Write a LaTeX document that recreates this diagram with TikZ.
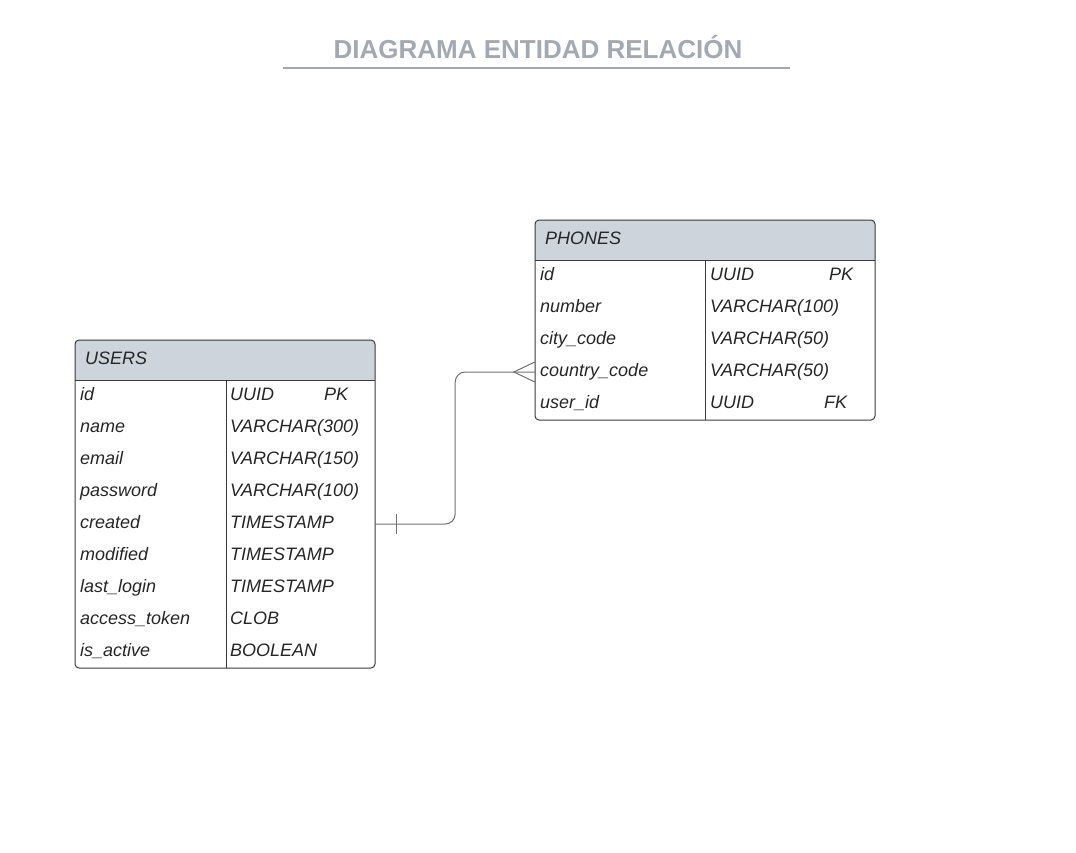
\documentclass[tikz,border=0pt]{standalone}
\usepackage{fontspec}
\setmainfont{Liberation Sans}
\usetikzlibrary{positioning}
\definecolor{titlegray}{HTML}{A3A9B3}
\definecolor{headfill}{HTML}{CED4DC}
\definecolor{tableline}{HTML}{3A3A3A}
\definecolor{textdark}{HTML}{262626}
\definecolor{linkgray}{HTML}{707070}

\begin{document}
\begin{tikzpicture}[x=1pt,y=-1pt,
    field/.style={anchor=base west, inner sep=0pt, text=textdark,
        font=\fontsize{18}{20}\selectfont\itshape},
    rowbox/.style={minimum height=32pt, inner sep=0pt},
    border/.style={tableline, line width=1pt}]

            \useasboundingbox (0,0) rectangle (1076,852);

            % title
            \node[anchor=base, text=titlegray, font=\fontsize{26}{30}\selectfont\bfseries]
                (title) at (538,58) {DIAGRAMA ENTIDAD RELACIÓN};
            \draw[titlegray, line width=2pt] (283,68) -- (790,68);

            % users
            \fill[headfill, rounded corners=4pt] (75,340) rectangle (375,380);
            \fill[headfill] (75,370) rectangle (375,380);
            \draw[border, rounded corners=4pt] (75,340) rectangle (375,668);
            \draw[border] (75,380) -- (375,380);
            \draw[border] (226,380) -- (226,668);
            \node[field] (users) at (85,364) {USERS};
                 \foreach \name/\type [count=\i] in {id/UUID, name/VARCHAR(300),
                     email/VARCHAR(150), password/VARCHAR(100), created/TIMESTAMP,
                     modified/TIMESTAMP, last\_login/TIMESTAMP, access\_token/CLOB,
                     is\_active/BOOLEAN}
                 {
                     \node[rowbox, minimum width=300pt] (urow\i) at (225,364+32*\i) {};
                     \node[field] (uname\i) at (80,368+32*\i) {\name};
                     \node[field] (utype\i) at (230,368+32*\i) {\type};
                 }
            \node[field] (ukey) at (324,400) {PK};

            % phones
            \fill[headfill, rounded corners=4pt] (535,220) rectangle (875,260);
            \fill[headfill] (535,250) rectangle (875,260);
            \draw[border, rounded corners=4pt] (535,220) rectangle (875,420);
            \draw[border] (535,260) -- (875,260);
            \draw[border] (705,260) -- (705,420);
            \node[field] (phones) at (545,244) {PHONES};
                 \foreach \name/\type [count=\i] in {id/UUID, number/VARCHAR(100),
                     city\_code/VARCHAR(50), country\_code/VARCHAR(50), user\_id/UUID}
                 {
                     \node[rowbox, minimum width=340pt] (prow\i) at (705,244+32*\i) {};
                     \node[field] (pname\i) at (540,248+32*\i) {\name};
                     \node[field] (ptype\i) at (710,248+32*\i) {\type};
                 }
            \node[field] (pkey) at (829,280) {PK};
            \node[field] (fkey) at (824,408) {FK};

            % relation
            \draw[linkgray, line width=1pt, rounded corners=10pt]
                (urow5.east) -- +(80,0) |- (prow4.west);
            \draw[linkgray, line width=1pt] ([xshift=21pt,yshift=10pt]urow5.east)
                -- ([xshift=21pt,yshift=-10pt]urow5.east);
            \draw[linkgray, line width=1pt] ([yshift=10pt]prow4.west)
                -- ([xshift=-21pt]prow4.west) -- ([yshift=-10pt]prow4.west);
\end{tikzpicture}
\end{document}
